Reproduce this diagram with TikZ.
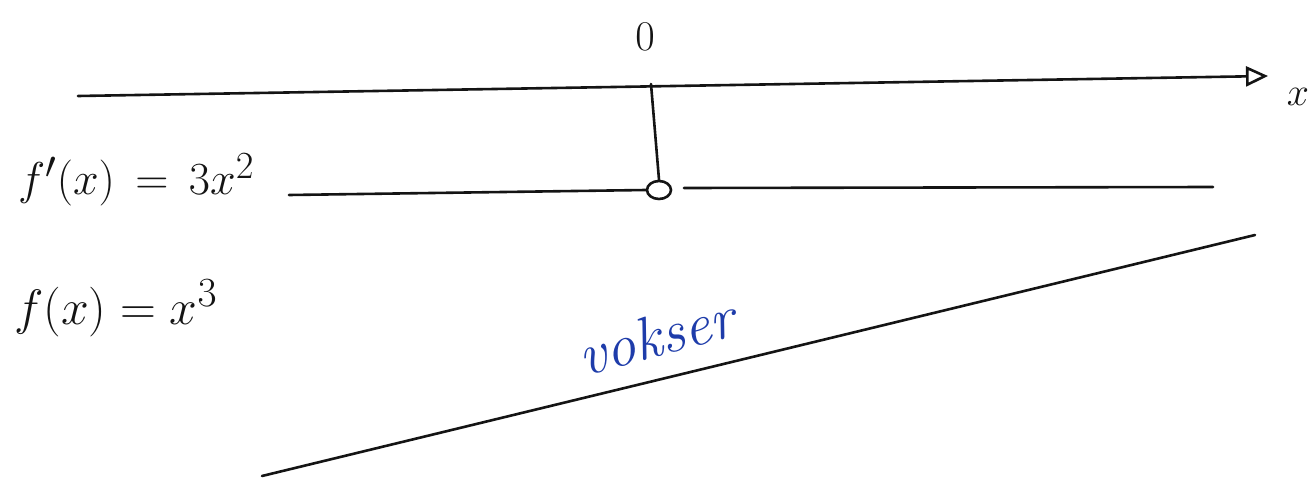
\documentclass[tikz,border=0pt]{standalone}
\usepackage{graphicx}
\usetikzlibrary{arrows.meta,shapes.geometric}
\definecolor{ink}{RGB}{20,20,20}
\definecolor{bluepen}{RGB}{30,60,170}
\newcommand{\bigtxt}[2][1.85]{\scalebox{#1}{\Huge #2}}
\tikzset{
  pen/.style={draw=ink, line width=2.6pt, line cap=round},
  lbl/.style={text=ink, inner sep=0pt},
}
\begin{document}
\begin{tikzpicture}[x=1pt,y=-1pt]
\useasboundingbox (0,0) rectangle (1312,479);
\fill[white] (0,0) rectangle (1312,479);
% x axis
\coordinate (axL) at (78,96);
\coordinate (axR) at (1268,76);
\draw[pen, -{Triangle[open, length=22pt, width=20pt, line width=2.6pt]}] (axL) -- (axR);
\node[lbl] (xl) at (1298,97) {\bigtxt[1.6]{$x$}};
\node[lbl] (zero) at (645,37) {\bigtxt[1.7]{$0$}};
% derivative line
\node[draw=ink, line width=2.6pt, ellipse, minimum width=24pt, minimum height=18pt, inner sep=0pt] (zc) at (659,190) {};
\coordinate (tick) at (651,84);
\draw[pen] (tick) -- (zc.north);
\coordinate (dL) at (289,195);
\coordinate (dR) at (1213,187);
\coordinate (dM) at (684,188);
\draw[pen] (dL) -- (zc.west);
\draw[pen] (dM) -- (dR);
\node[lbl, anchor=west] (fp) at (18,180) {\bigtxt{$f'(x)\,=\,3x^{2}$}};
\node[lbl, anchor=west] (f) at (14,308) {\bigtxt[2]{$f(x)=x^{3}$}};
% function line
\coordinate (fL) at (262,476);
\coordinate (fR) at (1255,235);
\draw[pen] (fL) -- (fR);
\node[lbl, text=bluepen, rotate=15] (vok) at (656,336) {\bigtxt[2.4]{\itshape vokser}};
\end{tikzpicture}
\end{document}
